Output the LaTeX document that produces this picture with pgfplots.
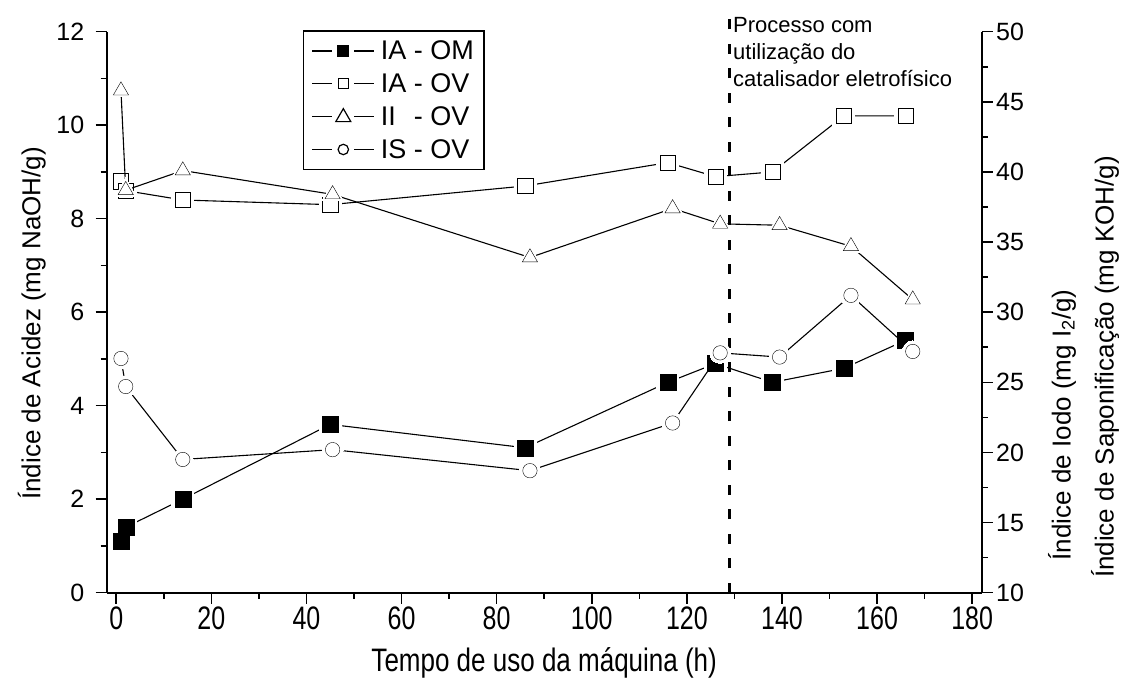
\documentclass[border=0pt]{standalone}
\usepackage{pgfplots}
\pgfplotsset{compat=1.18}
\usepackage{pgfplotstable}
\usepackage{fontspec}
\setmainfont{Liberation Sans}
\usepackage{graphicx}

\pgfplotstableread{
x y
1 1.1
2 1.4
14 2.0
45 3.6
86 3.1
116 4.5
126 4.9
138 4.5
153 4.8
166 5.4
}\iaom
\pgfplotstableread{
x y
1 8.8
2 8.6
14 8.4
45 8.3
86 8.7
116 9.2
126 8.9
138 9.0
153 10.2
166 10.2
}\iaov
\pgfplotstableread{
x y
1 45.8
2 38.7
14 40.1
45.5 38.4
87 33.9
117 37.4
127 36.3
139.5 36.2
154.5 34.7
167.5 30.9
}\iiov
\pgfplotstableread{
x y
1 26.7
2 24.7
14 19.5
45.5 20.2
87 18.7
117 22.1
127 27.1
139.5 26.8
154.5 31.2
167.5 27.2
}\isov

\pgfplotsset{
  common/.style={
    scale only axis, width=875pt, height=561pt,
    xmin=-2, xmax=182,
    tick align=outside,
    major tick length=11pt, minor tick length=6pt,
    every tick/.style={black, line width=1.6pt},
    axis line style={line width=2.2pt},
    /pgf/number format/assume math mode=true,
    ticklabel style={font=\fontsize{25}{30}\selectfont},
    clip=false,
  },
  dline/.style={black, line width=1.1pt, mark=none, forget plot},
  halo/.style={only marks, forget plot, mark options={draw=white, fill=white, line width=0pt}},
  mk/.style={only marks, forget plot, mark options={draw=black, line width=1.5pt}},
}

\begin{document}
\begin{tikzpicture}
\begin{axis}[common,
  axis x line*=bottom, axis y line*=left,
  ymin=0, ymax=12,
  xtick={0,20,...,180}, minor x tick num=1,
  ytick={0,2,...,12}, minor y tick num=1,
  xticklabel={\scalebox{1}[1.3]{\pgfmathprintnumber{\tick}}},
  yticklabel style={xshift=-8pt},
  xlabel={\scalebox{1}[1.25]{Tempo de uso da máquina (h)}},
  xlabel style={font=\fontsize{26}{31}\selectfont, at={(axis description cs:0.5,0)}, anchor=center, yshift=-70pt},
  ylabel={Índice de Acidez (mg NaOH/g)},
  ylabel style={font=\fontsize{26}{31}\selectfont, at={(axis description cs:0,0.48)}, anchor=center, yshift=75pt},
]
% IA - OM
\addplot[dline] table {\iaom};
\addplot[halo, mark=square*, mark size=11pt] table {\iaom};
\addplot[mk, mark=square*, mark size=8pt, mark options={fill=black}] table {\iaom};
% IA - OV
\addplot[dline] table {\iaov};
\addplot[halo, mark=square*, mark size=11pt] table {\iaov};
\addplot[mk, mark=square*, mark size=7.6pt, mark options={fill=white}] table {\iaov};
% dashed line
\addplot[forget plot, black, line width=3.2pt, dash pattern=on 10pt off 14.5pt, mark=none] coordinates {(129,0) (129,12.46)};
\end{axis}

\begin{axis}[common,
  axis x line=none, axis y line*=right,
  ymin=10, ymax=50,
  ytick={10,15,...,50}, minor y tick num=1,
  legend style={at={(rel axis cs:0.2243,1.003)}, anchor=north west,
    draw=black, line width=1.5pt, fill=white,
    font=\fontsize{27}{32}\selectfont,
    inner xsep=8pt, inner ysep=8pt, row sep=8.5pt,
    nodes={inner sep=2pt},
    /tikz/every odd column/.append style={column sep=4pt}},
  legend cell align=left,
]
\addlegendimage{legend image code/.code={
  \draw[black, line width=1.2pt] (0pt,0pt)--(20pt,0pt) (42pt,0pt)--(62pt,0pt);
  \draw[black, line width=1.2pt, fill=black] (25.5pt,-5.5pt) rectangle (36.5pt,5.5pt);}}
\addlegendentry{IA - OM}
\addlegendimage{legend image code/.code={
  \draw[black, line width=1.2pt] (0pt,0pt)--(20pt,0pt) (42pt,0pt)--(62pt,0pt);
  \draw[black, line width=1.2pt, fill=white] (26pt,-5pt) rectangle (36pt,5pt);}}
\addlegendentry{IA - OV}
\addlegendimage{legend image code/.code={
  \draw[black, line width=1.2pt] (0pt,0pt)--(20pt,0pt) (42pt,0pt)--(62pt,0pt);
  \draw[black, line width=1.2pt, fill=white] (23.5pt,-5pt)--(38.5pt,-5pt)--(31pt,8pt)--cycle;}}
\addlegendentry{II\hspace{0.39em} - OV}
\addlegendimage{legend image code/.code={
  \draw[black, line width=1.2pt] (0pt,0pt)--(20pt,0pt) (42pt,0pt)--(62pt,0pt);
  \draw[black, line width=1.2pt, fill=white] (31pt,0pt) circle (5.2pt);}}
\addlegendentry{IS - OV}
% II - OV
\addplot[dline] table {\iiov};
\addplot[halo, mark=triangle*, mark size=12.5pt] table {\iiov};
\addplot[mk, mark=triangle*, mark size=8.8pt, mark options={fill=white}] table {\iiov};
% IS - OV
\addplot[dline] table {\isov};
\addplot[halo, mark=*, mark size=10.5pt] table {\isov};
\addplot[mk, mark=*, mark size=7.2pt, mark options={fill=white}] table {\isov};
\end{axis}

% annotation
\begin{scope}[every node/.style={font=\fontsize{22}{27}\selectfont, anchor=base west, inner sep=0pt}]
\node at (626.3pt,559.7pt) {Processo com};
\node at (626.3pt,532.7pt) {utilização do};
\node at (626.3pt,506.2pt) {catalisador eletrofísico};
\end{scope}
% right axis titles
\node[rotate=90, anchor=center, font=\fontsize{26}{31}\selectfont] at (955.3pt,167.7pt) {Índice de Iodo (mg I\textsubscript{2}/g)};
\node[rotate=90, anchor=center, font=\fontsize{26}{31}\selectfont] at (998.3pt,225.7pt) {Índice de Saponificação (mg KOH/g)};

\pgfresetboundingbox
\useasboundingbox (-106.7pt,-94.3pt) rectangle (1024.3pt,592.7pt);
\end{tikzpicture}
\end{document}
